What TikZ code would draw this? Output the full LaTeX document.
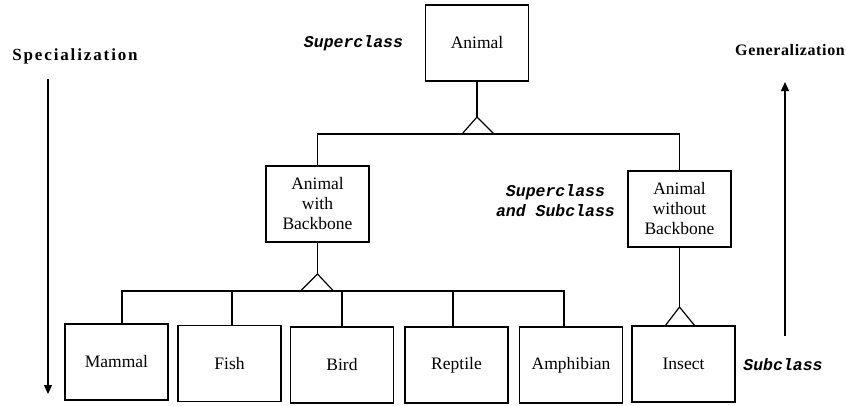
\documentclass[tikz,border=0pt]{standalone}
\usepackage{fontspec}
\setmainfont{Liberation Serif}
\newfontfamily\lblmono{Liberation Mono}
\newfontfamily\headspec[LetterSpace=11]{Liberation Serif}
\newfontfamily\headgen[LetterSpace=4]{Liberation Serif}
\usetikzlibrary{arrows.meta}
\begin{document}
\begin{tikzpicture}[x=1pt,y=-1pt,
  cls/.style={draw, line width=1.2pt, minimum width=103pt, minimum height=76pt, inner sep=0pt,
    align=center, font=\fontsize{17.5}{20}\selectfont},
  conn/.style={line width=1.2pt},
  tag/.style={font=\lblmono\bfseries\itshape\fontsize{16.5}{20}\selectfont, align=center, inner sep=0pt},
  dirarrow/.style={line width=1.2pt, -{Triangle[length=9pt,width=8pt]}}
]
\useasboundingbox (0,0) rectangle (846,405);
% class boxes
\node[cls] (animal) at (477,43) {Animal};
\node[cls] (backbone) at (317.5,204) {Animal\\with\\Backbone};
\node[cls] (without) at (679.5,209) {Animal\\without\\Backbone};
\node[cls] (mammal) at (116.5,362) {Mammal};
\node[cls] (fish) at (229.5,363.5) {Fish};
\node[cls] (bird) at (342,365) {Bird};
\node[cls] (reptile) at (456.5,365) {Reptile};
\node[cls] (amphibian) at (571,365) {Amphibian};
\node[cls] (insect) at (683.5,364) {Insect};
% labels
\node[tag] (lsuper) at (353.5,43) {Superclass};
\node[tag] (lboth) at (555.5,201) {Superclass\\and Subclass};
\node[tag] (lsub) at (783,365) {Subclass};
\node[font=\headspec\bfseries\fontsize{17}{20}\selectfont, inner sep=0pt] (spec) at (75,56) {Specialization};
\node[font=\headgen\bfseries\fontsize{16}{20}\selectfont, inner sep=0pt] (gen) at (790,50) {Generalization};
% direction arrows
\coordinate (specstart) at (48,79);
\coordinate (specend) at (48,394);
\coordinate (genstart) at (785,336);
\coordinate (genend) at (785,82);
\draw[dirarrow] (specstart) -- (specend);
\draw[dirarrow] (genstart) -- (genend);
% top level hierarchy
\coordinate (apex1) at (477,117);
\coordinate (bar1) at (477,134);
\draw[conn] (animal.south) -- (apex1);
\draw[conn] ([xshift=-15pt]bar1) -- (apex1) -- ([xshift=17pt]bar1);
\draw[conn] (backbone.north) -- (backbone.north |- bar1) -- (without.north |- bar1) -- (without.north);
% backbone children
\coordinate (apex2) at (317.5,274);
\coordinate (bar2) at (317.5,291);
\draw[conn] (backbone.south) -- (apex2);
\draw[conn] ([xshift=-17pt]bar2) -- (apex2) -- ([xshift=16pt]bar2);
\draw[conn] ([xshift=5.5pt]mammal.north) -- ([xshift=5.5pt]mammal.north |- bar2)
   -- ([xshift=-7pt]amphibian.north |- bar2) -- ([xshift=-7pt]amphibian.north);
\draw[conn] ([xshift=2.5pt]fish.north) -- ([xshift=2.5pt]fish.north |- bar2);
\draw[conn] (bird.north) -- (bird.north |- bar2);
\draw[conn] ([xshift=-3.5pt]reptile.north) -- ([xshift=-3.5pt]reptile.north |- bar2);
% insect
\coordinate (apex3) at (679.5,307);
\draw[conn] (without.south) -- (apex3);
\draw[conn] ([xshift=-14pt]apex3 |- insect.north) -- (apex3) -- ([xshift=15pt]apex3 |- insect.north);
\end{tikzpicture}
\end{document}
